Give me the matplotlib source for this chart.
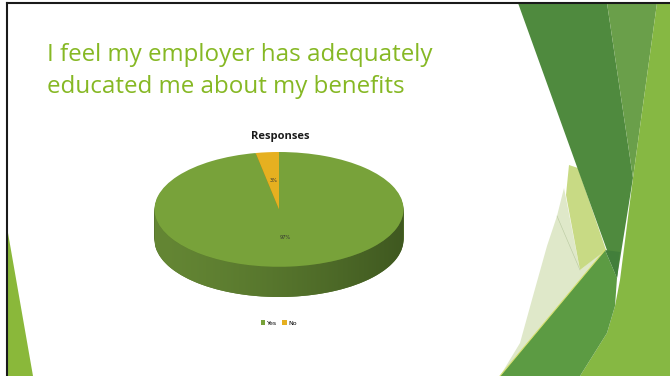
import numpy as np
import matplotlib
matplotlib.use("Agg")
import matplotlib.pyplot as plt
from matplotlib.patches import Polygon
from matplotlib.colors import to_rgb

# survey answers
labels = ["Yes", "No"]
shares = [97, 3]
top_colors = ["#78a23a", "#e6b020"]
side_colors = ["#56752a", "#a07a14"]

title_lines = ["I feel my employer has adequately", "educated me about my benefits"]
chart_title = "Responses"

W, H = 670, 376
fig = plt.figure(figsize=(W / 100, H / 100), dpi=100)
fig.patch.set_facecolor("white")

# slide background in pixel units
bg = fig.add_axes([0, 0, 1, 1])
bg.set_xlim(0, W)
bg.set_ylim(H, 0)
bg.axis("off")

shapes = [
    ([(564, 188), (580, 270), (605, 250), (500, 376), (520, 343), (533, 296),
      (547, 246), (557, 216)], "#dfe8c9"),
    ([(569, 165), (578, 168), (606, 250), (580, 270), (566, 195)], "#c8da84"),
    ([(518, 3), (607, 3), (633, 178), (617, 278)], "#4f8a3e"),
    ([(607, 3), (657, 3), (633, 178)], "#6a9f4a"),
    ([(657, 3), (670, 3), (670, 376), (580, 376), (607, 333), (615, 306),
      (620, 280), (633, 178)], "#86b843"),
    ([(500, 376), (605, 250), (617, 278), (615, 306), (607, 333), (580, 376)], "#5c9b43"),
    ([(605, 250), (620, 252), (617, 278)], "#427f3b"),
    ([(8, 233), (8, 376), (33, 376)], "#8ab83a"),
]
for pts, col in shapes:
    bg.add_patch(Polygon(pts, closed=True, facecolor=col, edgecolor="none"))
bg.plot([500, 605], [376, 250], color="#d6e070", lw=0.8)
bg.plot([557, 580], [216, 270], color="#b9c9a0", lw=0.4)

# frame of the scanned slide
bg.plot([7, 670], [3, 3], color="#1a1a1a", lw=1.5)
bg.plot([7, 7], [3, 376], color="#1a1a1a", lw=1.5)

for i, line in enumerate(title_lines):
    bg.text(47, 61 + 32 * i, line, fontsize=17.4, color="#86b824",
            family="Open Sans", va="baseline", ha="left")

bg.text(280, 136, chart_title, fontsize=8, fontweight="bold", color="#1a1a1a",
        family="Open Sans", ha="center", va="center")

# 3D-looking pie: stacked dark layers, then the top face
ax = fig.add_axes([154.5 / W, (H - 297) / H, 249 / W, 145 / H])
depth = 30 / 57
for k in np.linspace(depth, 0.02, 30):
    ax.pie(shares, colors=side_colors, startangle=90, counterclock=False,
           center=(0, -k), radius=1, wedgeprops=dict(linewidth=0))

# shade the front wall lighter on the left, darker on the right
t = np.linspace(np.pi, 2 * np.pi, 120)
wall = np.vstack([np.column_stack([np.cos(t), np.sin(t)]),
                  np.column_stack([np.cos(t[::-1]), np.sin(t[::-1]) - depth])])
wall_patch = Polygon(wall, closed=True, facecolor="none", edgecolor="none")
ax.add_patch(wall_patch)
c0, c1 = np.array(to_rgb("#648634")), np.array(to_rgb("#3f5820"))
ramp = np.linspace(0, 1, 200)[None, :, None]
grad = c0 + (c1 - c0) * ramp ** 1.4
img = ax.imshow(grad, extent=(-1, 1, -1 - depth, 0), aspect="auto",
                zorder=1.5, interpolation="bilinear")
img.set_clip_path(wall_patch)

wedges, _, autotexts = ax.pie(
    shares, colors=top_colors, startangle=90, counterclock=False,
    radius=1, autopct="%.0f%%", pctdistance=0.5,
    wedgeprops=dict(linewidth=0, zorder=2),
    textprops=dict(fontsize=3.6, color="#333333"))

ax.set_aspect("auto")
ax.set_xlim(-1, 1)
ax.set_ylim(-1 - depth, 1)
ax.axis("off")

ax.legend(wedges, labels, loc="center", bbox_to_anchor=(0.5, -0.18), ncol=2,
          frameon=False, fontsize=4.5, handlelength=0.7, handleheight=0.7,
          handletextpad=0.3, columnspacing=0.8)

fig.savefig("out.png", dpi=100)
